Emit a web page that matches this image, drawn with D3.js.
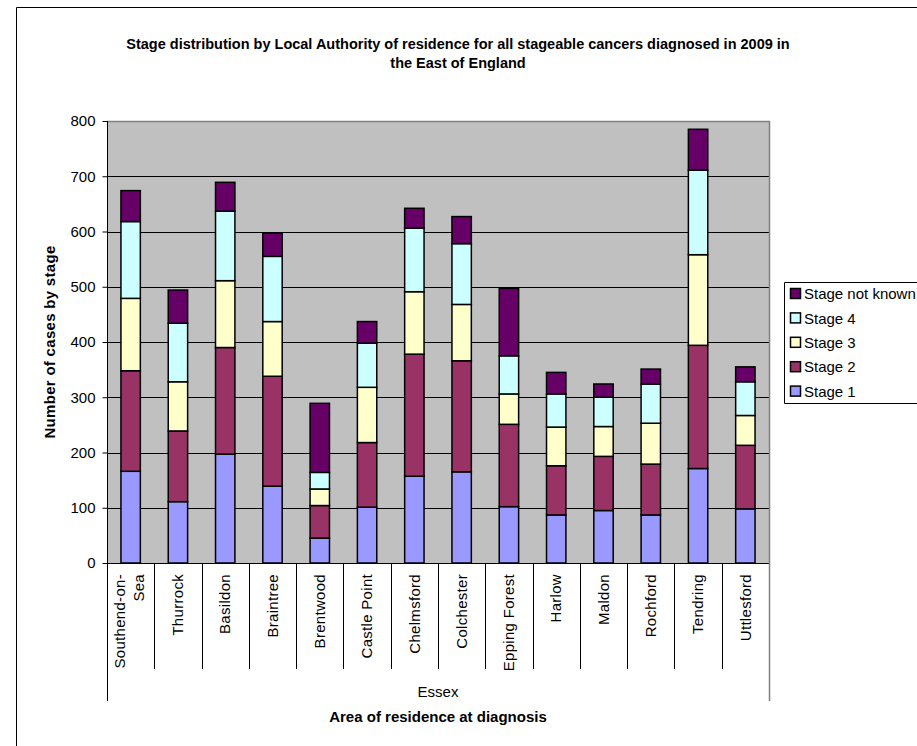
<!DOCTYPE html>
<html>
<head>
<meta charset="utf-8">
<script src="https://cdn.jsdelivr.net/npm/d3@7"></script>
<style>
  html, body { margin: 0; padding: 0; background: #fff; }
  svg { display: block; font-family: Arial, "Liberation Sans", sans-serif; }
</style>
</head>
<body>
<svg id="chart" width="917" height="746"></svg>
<script>
const categories = ["Southend-on-Sea","Thurrock","Basildon","Braintree","Brentwood","Castle Point","Chelmsford","Colchester","Epping Forest","Harlow","Maldon","Rochford","Tendring","Uttlesford"];
const stage1  = [166,111,197,139, 45,101,157,165,102, 87, 95, 87,171, 98];
const stage2  = [182,128,193,199, 59,117,221,201,149, 89, 98, 92,223,115];
const stage3  = [131, 89,121, 99, 30,100,113,102, 55, 70, 54, 74,164, 54];
const stage4  = [139,106,126,118, 30, 80,115,110, 69, 60, 53, 71,153, 61];
const unknown = [ 56, 60, 52, 42,125, 39, 36, 49,122, 39, 24, 27, 74, 27];
const seriesNames = ["Stage 1","Stage 2","Stage 3","Stage 4","Stage not known"];
const seriesColors = ["#9999FF","#993366","#FFFFCC","#CCFFFF","#660066"];
const yTicks = [0,100,200,300,400,500,600,700,800];
const groupLabel = "Essex";
const titleLines = ["Stage distribution by Local Authority of residence for all stageable cancers diagnosed in 2009 in","the East of England"];
const xTitle = "Area of residence at diagnosis";
const yTitle = "Number of cases by stage";

const svg = d3.select("#chart");
const L = 107, R = 769, T = 121, B = 563;
const FS = "15px";

// outer chart border
svg.append("path").attr("d", "M16.5,746 L16.5,7.5 L917,7.5").attr("fill","none").attr("stroke","#000").attr("stroke-width",1);

const x = d3.scaleBand().domain(categories).range([L, R]).padding(0);
const y = d3.scaleLinear().domain([0, 800]).range([B, T]);

// plot area
svg.append("rect").attr("x", L).attr("y", T).attr("width", R - L).attr("height", B - T).attr("fill", "#C0C0C0");
// gridlines
svg.append("g").selectAll("line").data(yTicks.filter(d => d > 0 && d < 800)).join("line")
  .attr("x1", L).attr("x2", R).attr("y1", d => Math.round(y(d)) + 0.5).attr("y2", d => Math.round(y(d)) + 0.5)
  .attr("stroke", "#000").attr("stroke-width", 1);
// plot border top/right gray
svg.append("path").attr("d", `M${L},${T+0.5} L${R+0.5},${T+0.5} L${R+0.5},${B}`).attr("fill","none").attr("stroke","#808080").attr("stroke-width",1.5);

// stacked data
const rows = categories.map((c, i) => ({cat: c, s0: stage1[i], s1: stage2[i], s2: stage3[i], s3: stage4[i], s4: unknown[i]}));
const stack = d3.stack().keys(["s0","s1","s2","s3","s4"]);
const stacked = stack(rows);
const bw = x.bandwidth() * 0.41;

svg.append("g").selectAll("g").data(stacked).join("g")
  .attr("fill", (d, i) => seriesColors[i])
  .selectAll("rect").data(d => d).join("rect")
  .attr("x", d => x(d.data.cat) + (x.bandwidth() - bw) / 2)
  .attr("y", d => y(d[1]))
  .attr("width", bw)
  .attr("height", d => y(d[0]) - y(d[1]))
  .attr("stroke", "#000").attr("stroke-width", 1.5);

// y axis
const yAxis = d3.axisLeft(y).tickValues(yTicks).tickSize(5).tickPadding(7);
const ya = svg.append("g").attr("transform", `translate(${L+0.5},0)`).call(yAxis);
ya.select(".domain").attr("stroke", "#000").attr("d", `M0,${T}V${B+0.5}`);
ya.selectAll(".tick line").attr("stroke", "#000");
ya.selectAll(".tick text").attr("font-size", FS).attr("fill", "#000").attr("font-family", "Arial, 'Liberation Sans', sans-serif");

// x axis line
svg.append("line").attr("x1", L).attr("x2", R + 1).attr("y1", B + 0.5).attr("y2", B + 0.5).attr("stroke", "#000");

// category separators
const bounds = categories.map(c => x(c)).concat([R]);
svg.append("g").selectAll("line").data(bounds).join("line")
  .attr("x1", d => Math.round(d) + 0.5).attr("x2", d => Math.round(d) + 0.5)
  .attr("y1", B).attr("y2", (d, i) => (i === 0 || i === bounds.length - 1) ? 701 : 669)
  .attr("stroke", (d, i) => i === bounds.length - 1 ? "#808080" : "#000")
  .attr("stroke-width", (d, i) => i === bounds.length - 1 ? 1.5 : 1);

// category labels (rotated)
function wrap(name) {
  const m = name.match(/^(.*-on-)(.*)$/);
  return m ? [m[1], m[2]] : [name];
}
const lab = svg.append("g").selectAll("text").data(categories).join("text")
  .attr("transform", d => `translate(${x(d) + x.bandwidth() / 2},574) rotate(-90)`)
  .attr("text-anchor", "end")
  .attr("font-size", FS)
  .attr("letter-spacing", "0.3px")
  .attr("fill", "#000");
lab.each(function(d) {
  const lines = wrap(d);
  const n = lines.length;
  d3.select(this).selectAll("tspan").data(lines).join("tspan")
    .attr("x", 0)
    .attr("y", (l, j) => (j - (n - 1) / 2) * 19 - (n > 1 ? 1.5 : 0))
    .attr("dy", "0.35em")
    .text(l => l);
});

// group label
svg.append("text").attr("x", (L + R) / 2).attr("y", 692).attr("dy", "0.35em").attr("text-anchor", "middle")
  .attr("font-size", FS).attr("fill", "#000").text(groupLabel);

// axis titles
svg.append("text").attr("x", (L + R) / 2).attr("y", 717).attr("dy", "0.35em").attr("text-anchor", "middle")
  .attr("font-size", FS).attr("font-weight", "bold").attr("fill", "#000").text(xTitle);
svg.append("text").attr("transform", `translate(50,${(T + B) / 2}) rotate(-90)`).attr("dy", "0.35em").attr("text-anchor", "middle")
  .attr("font-size", FS).attr("font-weight", "bold").attr("letter-spacing", "0.3px").attr("fill", "#000").text(yTitle);

// title
svg.append("g").selectAll("text").data(titleLines).join("text")
  .attr("x", 458).attr("y", (d, i) => 44 + i * 19).attr("dy", "0.35em").attr("text-anchor", "middle")
  .attr("font-size", "14.5px").attr("font-weight", "bold").attr("fill", "#000").text(d => d);

// legend
const lg = svg.append("g");
lg.append("path").attr("d", "M917,282.5 L784.5,282.5 L784.5,403.5 L917,403.5").attr("fill", "#fff").attr("stroke", "#000");
const order = [4,3,2,1,0];
const li = lg.selectAll("g.item").data(order).join("g").attr("class","item")
  .attr("transform", (d, k) => `translate(790,${294 + k * 24.4})`);
li.append("rect").attr("x", 0.5).attr("y", -5.5).attr("width", 10).attr("height", 10)
  .attr("fill", d => seriesColors[d]).attr("stroke", "#000").attr("stroke-width", 1.5);
li.append("text").attr("x", 14).attr("y", 0).attr("dy", "0.35em").attr("font-size", FS).attr("fill", "#000")
  .text(d => seriesNames[d]);
</script>
</body>
</html>
